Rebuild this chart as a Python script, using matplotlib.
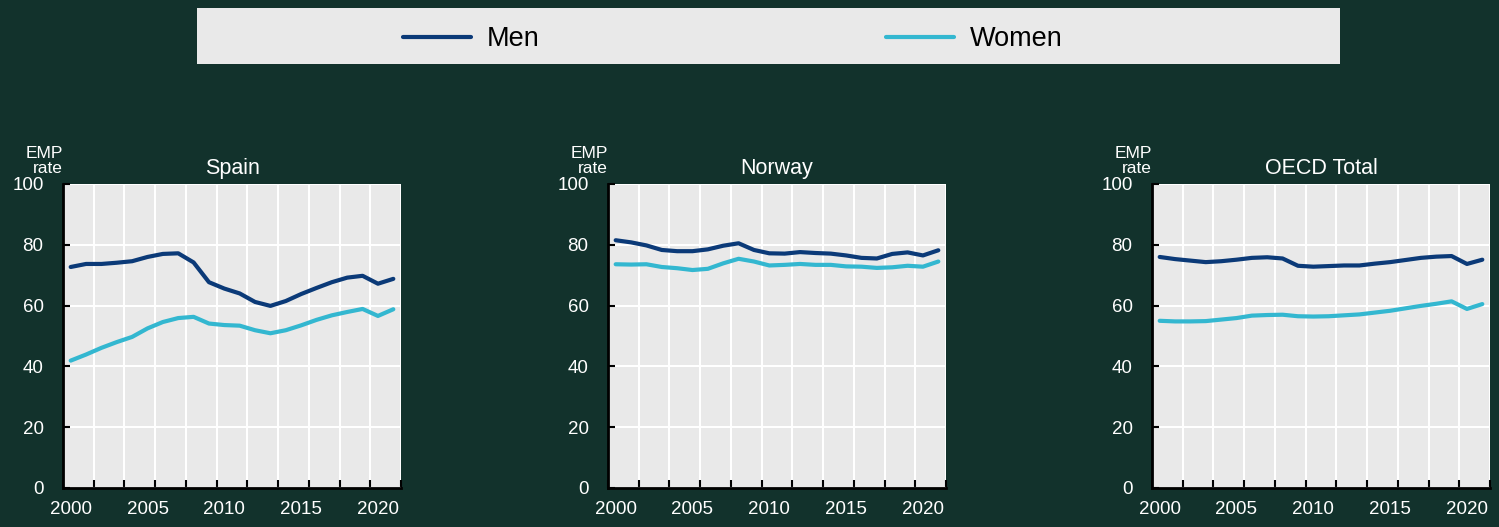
import matplotlib
matplotlib.use("Agg")
import matplotlib.pyplot as plt
from matplotlib.patches import Rectangle
from matplotlib.ticker import FixedLocator
from matplotlib.transforms import offset_copy

plt.rcParams['font.family'] = ['Liberation Sans', 'DejaVu Sans']

years = list(range(2000, 2022))
countries = ["Spain", "Norway", "OECD Total"]

spain_men = [72.7, 73.7, 73.7, 74.1, 74.6, 76.0, 77.0, 77.2, 74.2, 67.7, 65.6,
             64.0, 61.2, 59.9, 61.5, 63.8, 65.8, 67.7, 69.2, 69.8, 67.2, 68.8]
spain_women = [41.9, 43.9, 46.1, 48.0, 49.7, 52.5, 54.6, 55.9, 56.3, 54.1, 53.6,
               53.4, 51.9, 50.9, 51.9, 53.5, 55.3, 56.8, 57.9, 58.9, 56.6, 58.8]
norway_men = [81.5, 80.8, 79.8, 78.3, 77.9, 77.9, 78.5, 79.7, 80.5, 78.3, 77.2,
              77.1, 77.6, 77.3, 77.1, 76.5, 75.7, 75.5, 77.0, 77.5, 76.5, 78.2]
norway_women = [73.6, 73.5, 73.6, 72.7, 72.3, 71.7, 72.1, 73.9, 75.4, 74.5, 73.2,
                73.4, 73.7, 73.4, 73.4, 72.9, 72.8, 72.4, 72.6, 73.1, 72.8, 74.5]
oecd_men = [76.0, 75.3, 74.8, 74.3, 74.6, 75.1, 75.7, 75.9, 75.5, 73.1, 72.8,
            73.0, 73.2, 73.2, 73.8, 74.3, 75.0, 75.7, 76.1, 76.3, 73.7, 75.1]
oecd_women = [55.0, 54.8, 54.8, 54.9, 55.4, 55.9, 56.7, 56.9, 57.0, 56.5, 56.4,
              56.5, 56.8, 57.1, 57.7, 58.3, 59.1, 59.9, 60.6, 61.4, 58.9, 60.5]

men_series = [spain_men, norway_men, oecd_men]
women_series = [spain_women, norway_women, oecd_women]

y_ticks = [0, 20, 40, 60, 80, 100]
x_label_years = [2000, 2005, 2010, 2015, 2020]
y_axis_label = "EMP\nrate"
legend_labels = ["Men", "Women"]

BG = "#12322c"
PANEL = "#e9e9e9"
MEN_C = "#0b3a78"
WOMEN_C = "#33b7d0"

W, H = 1499, 527
fig = plt.figure(figsize=(W / 100, H / 100), dpi=100, facecolor=BG)

lefts = [63, 608, 1152]
ax_w = 338
ax_top, ax_bot = 184, 488

handles = None
for i, name in enumerate(countries):
    ax = fig.add_axes([lefts[i] / W, (H - ax_bot) / H, ax_w / W, (ax_bot - ax_top) / H])
    ax.set_facecolor(PANEL)
    xs = list(range(len(years)))
    lm, = ax.plot(xs, men_series[i], color=MEN_C, lw=3.0, solid_capstyle='round', zorder=3)
    lw_, = ax.plot(xs, women_series[i], color=WOMEN_C, lw=3.0, solid_capstyle='round', zorder=3)
    handles = [lm, lw_]
    ax.set_xlim(-0.5, len(years) - 0.5)
    ax.set_ylim(0, 100)
    ax.set_xticks([years.index(y) for y in x_label_years])
    ax.set_xticklabels([str(y) for y in x_label_years])
    bounds = [k - 0.5 for k in range(0, len(years) + 1, 2)]
    ax.xaxis.set_minor_locator(FixedLocator(bounds))
    ax.tick_params(axis='x', which='major', length=0, pad=9, labelsize=13.5, colors='white')
    ax.tick_params(axis='x', which='minor', direction='in', length=6, width=1.5, color='black')
    ax.set_yticks(y_ticks)
    ax.tick_params(axis='y', which='major', direction='in', length=5, width=1.5,
                   color='black', pad=14, labelsize=13.5, labelcolor='white')
    ax.grid(True, axis='x', which='minor', color='white', lw=1.5, zorder=0)
    ax.grid(True, axis='y', which='major', color='white', lw=1.5, zorder=0)
    ax.set_axisbelow(True)
    for s in ['top', 'right']:
        ax.spines[s].set_visible(False)
    for s in ['left', 'bottom']:
        ax.spines[s].set_color('black')
        ax.spines[s].set_linewidth(2)
    ax.set_title(name, color='white', fontsize=15.5, pad=7)
    tr = offset_copy(ax.transAxes, fig=fig, x=0, y=8, units='dots')
    ax.text(0.0, 1.0, y_axis_label, transform=tr, ha='right', va='bottom',
            color='white', fontsize=12.5, linespacing=1.0)

fig.patches.append(Rectangle((197 / W, 1 - 64 / H), (1340 - 197) / W, (64 - 8) / H,
                             transform=fig.transFigure, facecolor=PANEL, edgecolor='none',
                             zorder=0))
leg = fig.legend(handles, legend_labels, loc='center', bbox_to_anchor=(733 / W, 1 - 39 / H),
                 ncol=2, frameon=False, fontsize=19.5, handlelength=2.5, handletextpad=0.6,
                 columnspacing=12.8)
for t in leg.get_texts():
    t.set_color('black')

fig.savefig("out.png", dpi=100, facecolor=BG)
